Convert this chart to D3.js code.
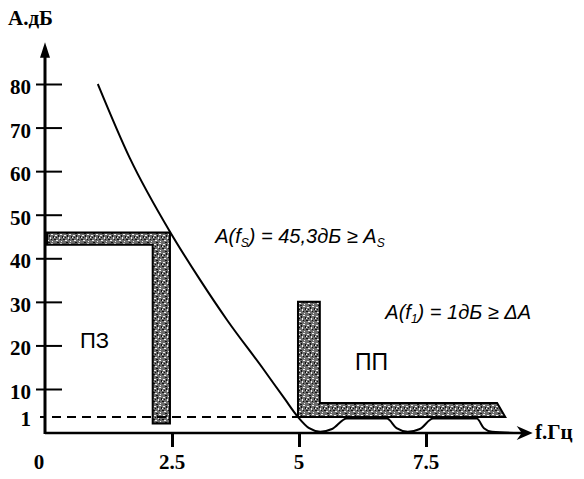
<!DOCTYPE html>
<html>
<head>
<meta charset="utf-8">
<script src="https://cdn.jsdelivr.net/npm/d3@7"></script>
<style>
  body { margin: 0; background: #fff; }
  svg { display: block; }
</style>
</head>
<body>
<div id="chart"></div>
<script>
// Size
let w = 584;
let h = 479;

// Y ticks and labels (dB)
const yTicks = [10, 20, 30, 40, 50, 60, 70, 80];
const yOneTick = 1;
// X ticks and labels (Hz)
const xTicks = [2.5, 5, 7.5];
const xLabels = [0, 2.5, 5, 7.5];

// Attenuation curve A(f)
const curveF = [1.04, 1.67, 2.46, 3.05, 3.58, 4.29, 4.72, 4.98, 5.2, 5.42, 5.65, 5.94, 6.73, 6.92, 7.14, 7.38, 7.64, 8.5, 8.64, 8.8, 9.35];
const curveA = [80, 63, 46.1, 35.1, 25.9, 14.7, 6.8, 1, 0.3, 0.08, 0.25, 0.9, 0.9, 0.3, 0.08, 0.25, 0.9, 0.9, 0.3, 0.08, 0];

// Stopband template (ПЗ) and passband template (ПП), [f, A]
const stopBand = [[0.04, 45.9], [2.46, 45.9], [2.46, 0.6], [2.12, 0.6], [2.12, 43.1], [0.04, 43.1]];
const passBand = [[4.98, 30], [5.41, 30], [5.41, 5.5], [8.9, 5.5], [9.06, 1], [4.98, 1]];

// Markers
const dashLevel = 1;
const dashEndF = 5;
const noteStop = { f: 3.35, A: 43.5 };
const notePass = { f: 6.7, A: 26 };

let xScale = d3.scaleLinear().domain([0, 10]).range([45, 553]);
// the 0..1 and 1..10 dB parts are stretched in the drawing
let yScale = d3.scaleLinear().domain([0, 1, 10, 80]).range([433, 417, 389, 84]);

let svg = d3.select("#chart").append("svg").attr("width", w).attr("height", h);

// Texture for the template bands
let defs = svg.append("defs");
let pat = defs.append("pattern")
  .attr("id", "grain")
  .attr("patternUnits", "userSpaceOnUse")
  .attr("width", 9).attr("height", 9);
pat.append("rect").attr("width", 9).attr("height", 9).attr("fill", "#6c6c6c");
[[1, 1, 2, 1], [5, 3, 1, 2], [2, 6, 2, 1], [7, 7, 1, 1], [6, 0, 2, 1], [0, 3, 1, 1]].forEach((r) => {
  pat.append("rect").attr("x", r[0]).attr("y", r[1]).attr("width", r[2]).attr("height", r[3]).attr("fill", "#f4f4f4");
});
[[4, 1, 1, 2], [0, 5, 2, 1], [6, 5, 1, 1], [3, 8, 2, 1], [8, 2, 1, 2], [2, 3, 1, 1]].forEach((r) => {
  pat.append("rect").attr("x", r[0]).attr("y", r[1]).attr("width", r[2]).attr("height", r[3]).attr("fill", "#111");
});

let poly = d3.line().x((d) => xScale(d[0])).y((d) => yScale(d[1]));

// Bands
svg.selectAll("path.band")
  .data([stopBand, passBand])
  .enter()
  .append("path")
  .attr("class", "band")
  .attr("d", (d) => poly(d) + "Z")
  .attr("fill", "url(#grain)")
  .attr("stroke", "#000")
  .attr("stroke-width", 2);

// Dashed 1 dB line
svg.append("line")
  .attr("x1", xScale(0) + 7).attr("x2", xScale(dashEndF))
  .attr("y1", yScale(dashLevel)).attr("y2", yScale(dashLevel))
  .attr("stroke", "#000").attr("stroke-width", 2)
  .attr("stroke-dasharray", "9,6");

// Y axis
let yAxis = d3.axisLeft(yScale).tickValues(yTicks).tickSize(-17).tickFormat(d3.format("d"));
let gy = svg.append("g").attr("transform", "translate(" + xScale(0) + ",0)").call(yAxis);
gy.select(".domain").remove();
gy.selectAll(".tick line").attr("x1", -9).attr("x2", 17).attr("stroke-width", 2);
gy.selectAll(".tick text")
  .attr("x", -14).attr("dy", "0.45em")
  .attr("text-anchor", "end")
  .attr("font-family", "Liberation Serif").attr("font-weight", "bold").attr("font-size", "21px");

gy.append("line").attr("x1", -5).attr("x2", 0)
  .attr("y1", yScale(yOneTick)).attr("y2", yScale(yOneTick))
  .attr("stroke", "#000").attr("stroke-width", 2);
gy.append("text").text(yOneTick)
  .attr("x", -14).attr("y", yScale(yOneTick)).attr("dy", "0.45em")
  .attr("text-anchor", "end").attr("fill", "#000")
  .attr("font-family", "Liberation Serif").attr("font-weight", "bold").attr("font-size", "21px");

svg.append("line")
  .attr("x1", xScale(0)).attr("x2", xScale(0))
  .attr("y1", yScale(0) + 1).attr("y2", yScale(88))
  .attr("stroke", "#000").attr("stroke-width", 3);
svg.append("path")
  .attr("d", `M${xScale(0)},${yScale(89.6)} L${xScale(0) - 5},${yScale(86)} L${xScale(0) + 5},${yScale(86)} Z`)
  .attr("fill", "#000");
svg.append("text").text("А.дБ")
  .attr("x", 8).attr("y", 25)
  .attr("font-family", "Liberation Serif").attr("font-weight", "bold").attr("font-size", "21px");

// X axis
let xAxis = d3.axisBottom(xScale).tickValues(xTicks).tickSize(14).tickFormat("");
let gx = svg.append("g").attr("transform", "translate(0," + yScale(0) + ")").call(xAxis);
gx.select(".domain").remove();
gx.selectAll(".tick line").attr("stroke-width", 3);

svg.append("line")
  .attr("x1", xScale(0)).attr("x2", xScale(9.5))
  .attr("y1", yScale(0)).attr("y2", yScale(0))
  .attr("stroke", "#000").attr("stroke-width", 2.5);
let ax = xScale(9.6), ay = yScale(0);
svg.append("path")
  .attr("d", `M${ax},${ay} L${ax - 16},${ay - 7} L${ax - 11},${ay} L${ax - 16},${ay + 7} Z`)
  .attr("fill", "#000");

svg.selectAll("text.xlab")
  .data(xLabels)
  .enter()
  .append("text")
  .attr("class", "xlab")
  .text((d) => d)
  .attr("x", (d) => xScale(d) - (d === 0 ? 6 : 0))
  .attr("y", 469)
  .attr("text-anchor", "middle")
  .attr("font-family", "Liberation Serif").attr("font-weight", "bold").attr("font-size", "21px");

svg.append("text").text("f.Гц")
  .attr("x", 535).attr("y", 439)
  .attr("font-family", "Liberation Serif").attr("font-weight", "bold").attr("font-size", "21px");

// Attenuation curve
let curveData = curveF.map((f, i) => [f, curveA[i]]);
svg.append("path")
  .datum(curveData)
  .attr("d", d3.line().x((d) => xScale(d[0])).y((d) => yScale(d[1])).curve(d3.curveMonotoneX))
  .attr("fill", "none")
  .attr("stroke", "#000")
  .attr("stroke-width", 2);

// Region labels
svg.append("text").text("ПЗ")
  .attr("x", 80).attr("y", 348)
  .attr("font-family", "Liberation Sans").attr("font-size", "22px");
svg.append("text").text("ПП")
  .attr("x", 355).attr("y", 370)
  .attr("font-family", "Liberation Sans").attr("font-size", "23px");

// Formulas
let t1 = svg.append("text")
  .attr("x", xScale(noteStop.f)).attr("y", yScale(noteStop.A))
  .attr("font-family", "Liberation Sans").attr("font-style", "italic").attr("font-size", "20px");
t1.append("tspan").text("A(f");
t1.append("tspan").text("S").attr("font-size", "12px").attr("dy", 4);
t1.append("tspan").text(") = 45,3дБ ≥ A").attr("dy", -4);
t1.append("tspan").text("S").attr("font-size", "12px").attr("dy", 4);

let t2 = svg.append("text")
  .attr("x", xScale(notePass.f)).attr("y", yScale(notePass.A))
  .attr("font-family", "Liberation Sans").attr("font-style", "italic").attr("font-size", "20px");
t2.append("tspan").text("A(f");
t2.append("tspan").text("1").attr("font-size", "12px").attr("dy", 4);
t2.append("tspan").text(") = 1дБ ≥ ΔA").attr("dy", -4);
</script>
</body>
</html>
